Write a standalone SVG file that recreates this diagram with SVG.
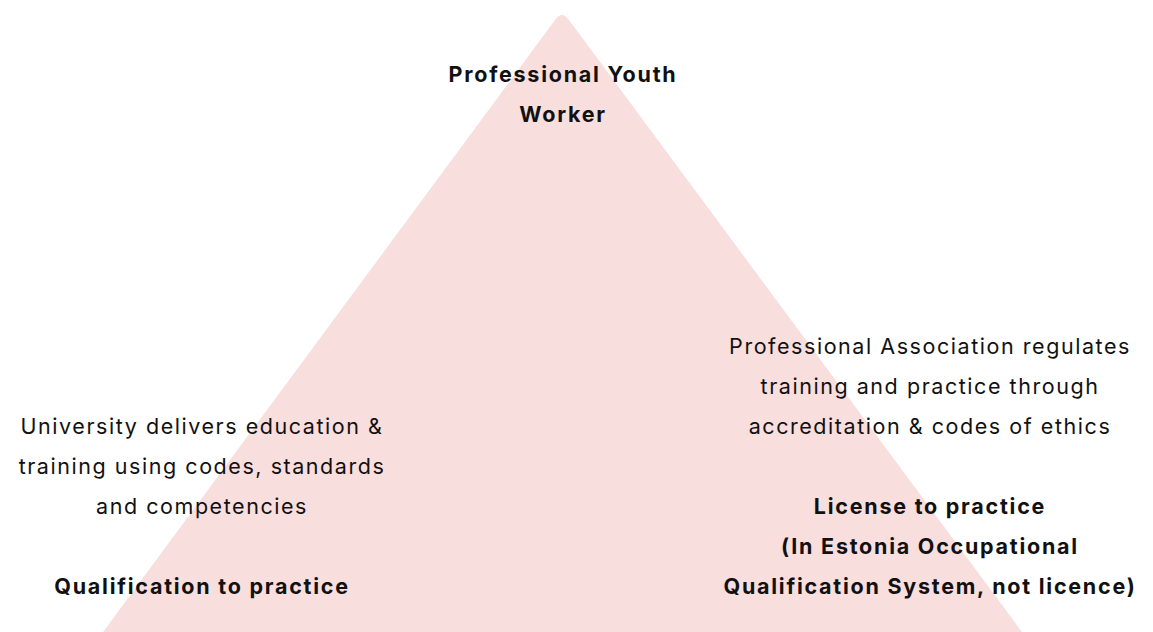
<svg xmlns="http://www.w3.org/2000/svg" width="1153" height="632" viewBox="0 0 1153 632">
  <style>
    .t { font-family: Inter, "Noto Sans", "Liberation Sans", sans-serif; font-size: 21.5px; letter-spacing: 1.55px; fill: #111; text-anchor: middle; }
    .b { font-weight: 700; letter-spacing: 1.75px; }
  </style>
  <rect width="1153" height="632" fill="#ffffff"/>
  <g id="pyramid">
    <path d="M103 632 L555 20 Q562 10 569 20 L1022 632 Z" fill="#f9dede"/>
  </g>
  <g id="apex">
    <text class="t b" x="563" y="82">Professional Youth</text>
    <text class="t b" x="563" y="122">Worker</text>
  </g>
  <g id="university">
    <text class="t" x="202" y="434">University delivers education &amp;</text>
    <text class="t" x="202" y="474">training using codes, standards</text>
    <text class="t" x="202" y="514">and competencies</text>
    <text class="t b" x="202" y="594">Qualification to practice</text>
  </g>
  <g id="association">
    <text class="t" x="930" y="354">Professional Association regulates</text>
    <text class="t" x="930" y="394">training and practice through</text>
    <text class="t" x="930" y="434">accreditation &amp; codes of ethics</text>
    <text class="t b" x="930" y="514">License to practice</text>
    <text class="t b" x="930" y="554">(In Estonia Occupational</text>
    <text class="t b" x="930" y="594">Qualification System, not licence)</text>
  </g>
  <g id="connectors"></g>
</svg>
